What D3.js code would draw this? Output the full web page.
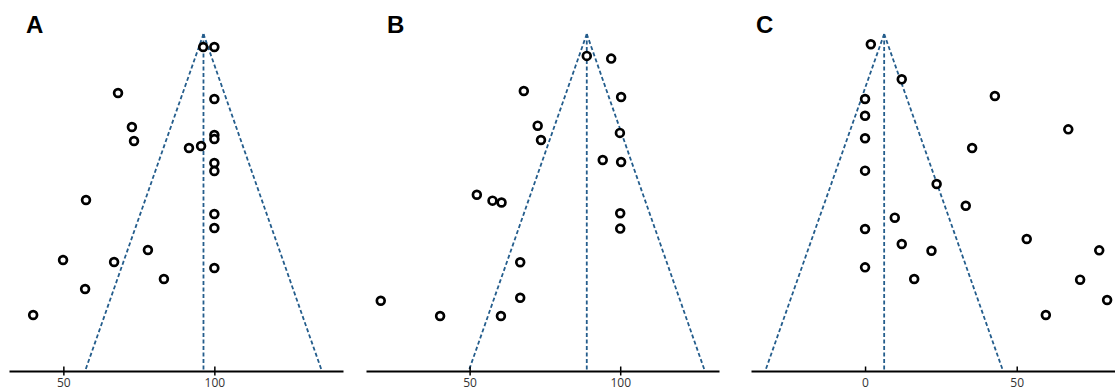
<!DOCTYPE html>
<html>
<head>
<meta charset="utf-8">
<script src="https://cdn.jsdelivr.net/npm/d3@7"></script>
<style>
  body { margin: 0; background: #fff; }
  svg { display: block; }
</style>
</head>
<body>
<script>
const W = 1115, H = 390;

// panel labels and pooled estimates
const panelNames = ["A", "B", "C"];
const pooled = [96.4, 88.9, 6.3];
const tickSets = [[50, 100], [50, 100], [0, 50]];
const maxSE = 20;

// study effects and standard errors
const effectA = [96.3, 100, 68.1, 100, 72.7, 73.4, 100, 100, 91.6, 95.6, 100, 100, 57.5, 100, 100, 78.0, 49.9, 66.8, 100, 83.3, 57.2, 40.0];
const seA     = [0.77, 0.77, 3.5, 3.86, 5.52, 6.35, 5.99, 6.23, 6.77, 6.65, 7.66, 8.13, 9.85, 10.68, 11.51, 12.82, 13.41, 13.53, 13.89, 14.54, 15.13, 16.68];

const effectB = [88.9, 97.0, 68.0, 100.3, 72.6, 73.7, 99.9, 94.2, 100.3, 52.4, 57.6, 60.6, 100, 100, 66.8, 66.8, 20.5, 40.2, 60.4];
const seB     = [1.3, 1.46, 3.38, 3.74, 5.44, 6.29, 5.87, 7.48, 7.6, 9.54, 9.89, 10.0, 10.64, 11.55, 13.55, 15.65, 15.83, 16.74, 16.74];

const effectC = [1.9, 12.1, 0, 0, 0, 0, 42.8, 67.0, 35.3, 23.6, 33.2, 9.8, 0, 12.1, 21.9, 53.3, 77.2, 0, 16.2, 70.9, 79.8, 59.6];
const seC     = [0.61, 2.69, 3.86, 4.85, 6.19, 8.11, 3.68, 5.66, 6.77, 8.9, 10.19, 10.9, 11.57, 12.46, 12.86, 12.17, 12.84, 13.85, 14.54, 14.58, 15.79, 16.68];

const effects = [effectA, effectB, effectC];
const ses = [seA, seB, seC];

// x domains and pixel ranges for each panel
const xDomains = [[32.0, 142.6], [15.6, 132.8], [-37.6, 82.4]];
const xRanges = [[9, 343], [366, 719], [751, 1115]];
const showTicks = [true, true, false];

const svg = d3.select("body").append("svg")
    .attr("width", W)
    .attr("height", H);

const y = d3.scaleLinear().domain([0, maxSE]).range([34, 371]);
const blue = "#245d8c";

panelNames.forEach((name, p) => {
    const x = d3.scaleLinear().domain(xDomains[p]).range(xRanges[p]);
    const g = svg.append("g");

    // funnel
    const m = pooled[p];
    const lo = m - 1.96 * maxSE, hi = m + 1.96 * maxSE;
    const funnel = [
        [[m, 0], [lo, maxSE]],
        [[m, 0], [hi, maxSE]],
        [[m, 0], [m, maxSE]]
    ];
    g.selectAll("line.funnel")
        .data(funnel)
        .enter().append("line")
        .attr("class", "funnel")
        .attr("x1", d => x(d[0][0]))
        .attr("y1", d => y(d[0][1]))
        .attr("x2", d => x(d[1][0]))
        .attr("y2", d => y(d[1][1]))
        .attr("stroke", blue)
        .attr("stroke-width", 1.8)
        .attr("stroke-dasharray", "4,2.5");

    // x axis
    const axis = d3.axisBottom(x)
        .tickValues(tickSets[p])
        .tickSize(showTicks[p] ? 4.5 : 0)
        .tickSizeOuter(0)
        .tickPadding(showTicks[p] ? 3 : 7.5);
    const ax = g.append("g")
        .attr("transform", "translate(0," + y(maxSE) + ")")
        .call(axis);
    ax.select(".domain")
        .attr("stroke", "#000")
        .attr("stroke-width", 2);
    ax.selectAll(".tick line")
        .attr("y1", -4.5)
        .attr("stroke", "#000")
        .attr("stroke-width", 1.5);
    ax.selectAll(".tick text")
        .attr("fill", "#333")
        .style("font-family", "'Open Sans', sans-serif")
        .style("font-size", "12px");

    // studies
    const pts = effects[p].map((e, i) => ({ e: e, se: ses[p][i] }));
    g.selectAll("circle")
        .data(pts)
        .enter().append("circle")
        .attr("cx", d => x(d.e))
        .attr("cy", d => y(d.se))
        .attr("r", 3.9)
        .attr("fill", "#fff")
        .attr("stroke", "#000")
        .attr("stroke-width", 2.7);

    // panel letter
    svg.append("text")
        .attr("x", [26, 387, 756][p])
        .attr("y", 33)
        .text(name)
        .style("font-family", "'Liberation Sans', Arial, sans-serif")
        .style("font-weight", "bold")
        .style("font-size", "24px")
        .attr("fill", "#000");
});
</script>
</body>
</html>
